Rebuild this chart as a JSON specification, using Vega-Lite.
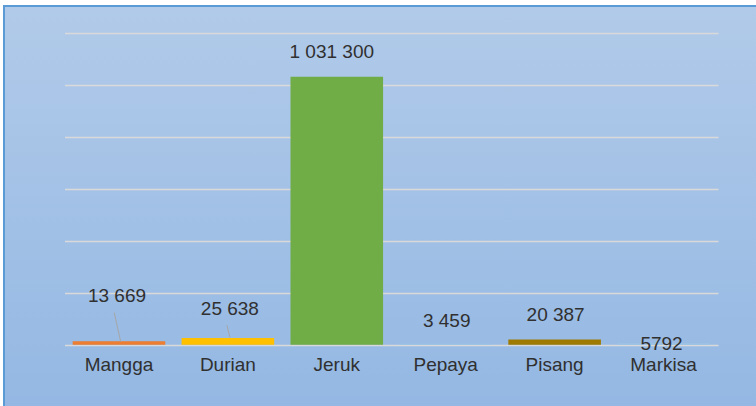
{
  "$schema": "https://vega.github.io/schema/vega-lite/v6.json",
  "width": 752,
  "height": 400,
  "autosize": {"type": "none"},
  "padding": {"left": 4, "top": 6, "right": 0, "bottom": 0},
  "background": "white",
  "config": {
    "font": "Liberation Sans",
    "view": {
      "fill": {"gradient": "linear", "x1": 0, "y1": 0, "x2": 0, "y2": 1,
        "stops": [{"offset": 0, "color": "#B1CAE9"}, {"offset": 1, "color": "#94B8E3"}]},
      "stroke": "#5B9BD5",
      "strokeWidth": 2,
      "strokeDash": [752, 1152, 400]
    }
  },
  "data": {
    "values": [
      {"Buah": "Mangga", "Produksi": 13669, "Label": "13 669"},
      {"Buah": "Durian", "Produksi": 25638, "Label": "25 638"},
      {"Buah": "Jeruk", "Produksi": 1031300, "Label": "1 031 300"},
      {"Buah": "Pepaya", "Produksi": 3459, "Label": "3 459"},
      {"Buah": "Pisang", "Produksi": 20387, "Label": "20 387"},
      {"Buah": "Markisa", "Produksi": 5792, "Label": "5792"}
    ]
  },
  "encoding": {
    "x": {
      "field": "Buah", "type": "nominal", "sort": null,
      "scale": {"range": [60.5, 714], "paddingInner": 0.15, "paddingOuter": 0.075},
      "axis": {
        "title": null, "labelAngle": 0, "domain": false, "ticks": false, "tickSize": 0,
        "grid": false, "offset": -61.3, "labelPadding": 26, "labelBaseline": "alphabetic",
        "labelFontSize": 19, "labelColor": "#303030", "labelFont": "Liberation Sans"
      }
    },
    "y": {
      "field": "Produksi", "type": "quantitative",
      "scale": {"domain": [0, 1200000], "nice": false, "range": [338.7, 27]},
      "axis": {
        "title": null, "labels": false, "ticks": false, "domain": false,
        "values": [0, 200000, 400000, 600000, 800000, 1000000, 1200000],
        "grid": true, "gridColor": "#D9D9D9", "gridWidth": 1.5
      }
    }
  },
  "layer": [
    {
      "mark": {"type": "bar"},
      "encoding": {
        "color": {
          "field": "Buah", "type": "nominal", "legend": null,
          "scale": {
            "domain": ["Mangga", "Durian", "Jeruk", "Pepaya", "Pisang", "Markisa"],
            "range": ["#ED7D31", "#FFC000", "#70AD47", "#9DC3E6", "#9E7A00", "#9DC3E6"]
          }
        }
      }
    },
    {
      "transform": [{"filter": "datum.Buah === 'Mangga' || datum.Buah === 'Durian'"}],
      "mark": {
        "type": "rule", "color": "#A6A6A6", "strokeWidth": 1,
        "xOffset": {"expr": "datum.Buah === 'Mangga' ? 1.7 : 2"},
        "x2Offset": {"expr": "datum.Buah === 'Mangga' ? -4.7 : -1"},
        "yOffset": {"expr": "datum.Buah === 'Mangga' ? 0.5 : -0.7"},
        "y2Offset": {"expr": "datum.Buah === 'Mangga' ? -28.5 : -13"}
      },
      "encoding": {
        "x2": {"field": "Buah"},
        "y2": {"field": "Produksi"}
      }
    },
    {
      "mark": {
        "type": "text", "fontSize": 19, "color": "#303030", "baseline": "middle",
        "font": "Liberation Sans",
        "dy": {"expr": "datum.Buah === 'Mangga' ? -45 : datum.Buah === 'Durian' ? -29 : datum.Buah === 'Markisa' ? 1 : datum.Buah === 'Pepaya' ? -22.5 : -24.5"},
        "dx": {"expr": "datum.Buah === 'Jeruk' ? -5 : datum.Buah === 'Mangga' ? -2 : datum.Buah === 'Durian' ? 2 : datum.Buah === 'Markisa' ? -2 : 1"}
      },
      "encoding": {
        "text": {"field": "Label"}
      }
    }
  ]
}
